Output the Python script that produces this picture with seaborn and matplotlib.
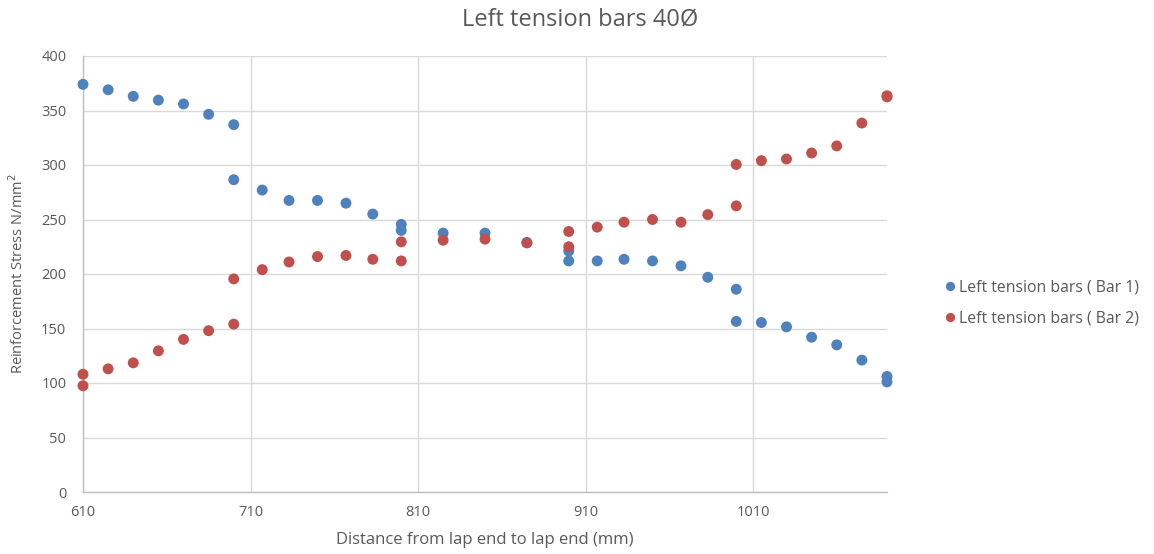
import matplotlib
matplotlib.use("Agg")
import matplotlib.pyplot as plt
import seaborn as sns
import pandas as pd

# Measurement positions along the lap (mm)
bar1_x = [610, 625, 640, 655, 670, 685, 700, 700, 717, 733, 750, 767, 783, 800, 800,
          825, 850, 875, 900, 900, 917, 933, 950, 967, 983, 1000, 1000, 1015, 1030,
          1045, 1060, 1075, 1090, 1090]
bar1_y = [374, 369, 363, 359.5, 356, 346.5, 337, 286.5, 277, 267.5, 267.5, 265, 255, 245.5, 240,
          237.5, 237.5, 229, 221, 212, 212, 213.5, 212, 207.5, 197, 186, 156.5, 155.5, 151.5,
          142, 135, 121, 106, 101]

bar2_x = [610, 610, 625, 640, 655, 670, 685, 700, 700, 717, 733, 750, 767, 783, 800, 800,
          825, 850, 875, 900, 900, 917, 933, 950, 967, 983, 1000, 1000, 1015, 1030,
          1045, 1060, 1075, 1090, 1090]
bar2_y = [108, 97.5, 113, 118.5, 129.5, 140, 148, 154, 195.5, 204, 211, 216, 217, 213.5, 229.5, 212,
          231, 232, 228.5, 239, 225, 243, 247.5, 250, 247.5, 254.5, 262.5, 300.5, 304, 305.5,
          311, 317.5, 338.5, 363.5, 362.5]

series_names = ["Left tension bars ( Bar 1)", "Left tension bars ( Bar 2)"]
series_colors = ["#4F81BD", "#C0504D"]

title_text = "Left tension bars 40\u00d8"
x_label = "Distance from lap end to lap end (mm)"
y_label = "Reinforcement Stress N/mm$^2$"
x_ticks = [610, 710, 810, 910, 1010]
y_ticks = [0, 50, 100, 150, 200, 250, 300, 350, 400]

df = pd.concat([
    pd.DataFrame({"x": bar1_x, "y": bar1_y, "series": series_names[0]}),
    pd.DataFrame({"x": bar2_x, "y": bar2_y, "series": series_names[1]}),
], ignore_index=True)

sns.set_theme(style="white")
plt.rcParams["font.family"] = ["Open Sans", "DejaVu Sans"]

text_color = "#595959"
grid_color = "#d9d9d9"

fig = plt.figure(figsize=(11.54, 5.54), dpi=100)
ax = fig.add_axes([83 / 1154, 1 - 492 / 554, (887 - 83) / 1154, (492 - 56) / 554])

sns.scatterplot(data=df, x="x", y="y", hue="series", palette=series_colors,
                hue_order=series_names, s=62, marker="o", linewidth=0,
                ax=ax, legend=True, zorder=3, clip_on=False)

ax.set_xlim(610, 1090)
ax.set_ylim(0, 400)
ax.set_xticks(x_ticks)
ax.set_yticks(y_ticks)
ax.grid(True, color=grid_color, linewidth=1.0, zorder=0)
ax.set_axisbelow(True)

for side in ["top", "right"]:
    ax.spines[side].set_visible(False)
ax.spines["left"].set_color("#bfbfbf")
ax.spines["bottom"].set_color("#bfbfbf")
ax.spines["left"].set_linewidth(1.0)
ax.spines["bottom"].set_linewidth(1.0)

ax.tick_params(axis="both", colors=text_color, labelsize=10.5, length=0)
ax.tick_params(axis="x", pad=9)
ax.tick_params(axis="y", pad=12)

ax.set_xlabel(x_label, color=text_color, fontsize=12, labelpad=9)
ax.set_ylabel(y_label, color=text_color, fontsize=10.5, labelpad=10)

fig.text(580 / 1154, 1 - 20 / 554, title_text, ha="center", va="center",
         color=text_color, fontsize=17)

handles, labels = ax.get_legend_handles_labels()
ax.legend(handles, labels, loc="center left",
          bbox_to_anchor=(928 / 1154, 1 - 303 / 554), bbox_transform=fig.transFigure,
          frameon=False, fontsize=11.3, labelcolor=text_color,
          handletextpad=0.05, markerscale=0.85, labelspacing=0.9, handlelength=1.0)

fig.savefig("out.png", dpi=100)
